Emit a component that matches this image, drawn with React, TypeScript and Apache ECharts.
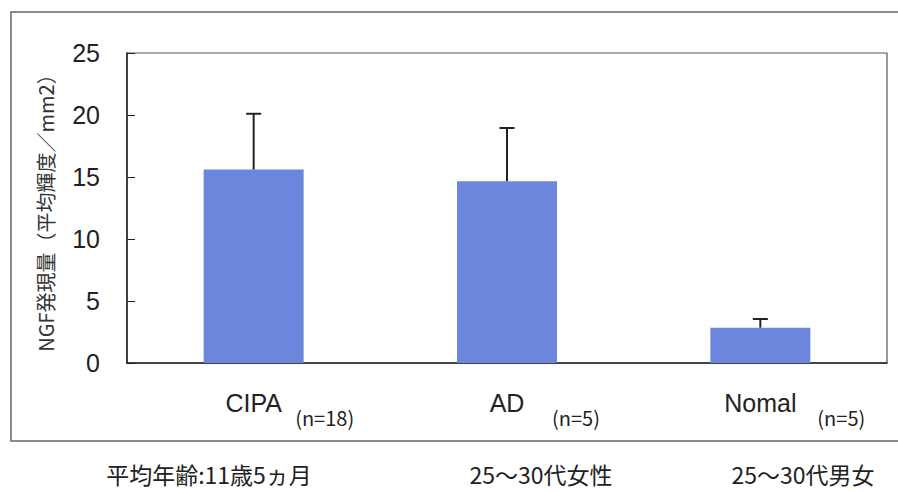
import React, { useEffect, useRef } from "react";
import * as echarts from "echarts";

const categories = ["CIPA", "AD", "Nomal"];
const sampleLabels = ["(n=18)", "(n=5)", "(n=5)"];
const means = [15.6, 14.65, 2.85];
const errorTops = [20.1, 18.95, 3.55];
const yTicks = { min: 0, max: 25, interval: 5 };
const yName = "NGF発現量（平均輝度／mm2）";
const footnotes = ["平均年齢:11歳5ヵ月", "25～30代女性", "25～30代男女"];

const FONT = "'Liberation Sans', Arial, 'Noto Sans CJK JP', sans-serif";
const CJK = "'Noto Sans CJK JP', 'Liberation Sans', sans-serif";

export default function App() {
  const ref = useRef<HTMLDivElement>(null);
  useEffect(() => {
    document.body.style.margin = "0";
    const chart = echarts.init(ref.current!, null, { renderer: "svg" });
    const nPads = [142, 138, 162];
    const footX = [209, 541, 803];
    chart.setOption({
      animation: false,
      backgroundColor: "#ffffff",
      grid: { left: 127, top: 53, right: 11, bottom: 129, show: true, borderColor: "#555", borderWidth: 1.2 },
      xAxis: [
        {
          type: "category",
          data: categories,
          axisLine: { lineStyle: { color: "#222", width: 1.5 } },
          axisTick: { show: false },
          axisLabel: { margin: 27, fontSize: 25, color: "#222", fontFamily: FONT },
        },
        {
          type: "category",
          data: sampleLabels,
          position: "bottom",
          axisLine: { show: false },
          axisTick: { show: false },
          axisLabel: {
            margin: 44,
            formatter: (v: string, i: number) => `{p${i}|${v}}`,
            rich: {
              p0: { padding: [0, 0, 0, nPads[0]], fontSize: 20, color: "#222", fontFamily: CJK },
              p1: { padding: [0, 0, 0, nPads[1]], fontSize: 20, color: "#222", fontFamily: CJK },
              p2: { padding: [0, 0, 0, nPads[2]], fontSize: 20, color: "#222", fontFamily: CJK },
            },
          },
        },
      ],
      yAxis: {
        type: "value",
        min: yTicks.min,
        max: yTicks.max,
        interval: yTicks.interval,
        name: yName,
        nameLocation: "middle",
        nameGap: 72,
        nameTextStyle: { fontSize: 20, color: "#333", fontFamily: CJK },
        axisLine: { show: true, lineStyle: { color: "#222", width: 1.5 } },
        axisTick: { show: true, inside: true, length: 8, lineStyle: { color: "#222" } },
        axisLabel: { margin: 27, fontSize: 25, color: "#222", fontFamily: FONT },
        splitLine: { show: false },
      },
      series: [
        {
          type: "bar",
          data: means,
          barWidth: 100,
          itemStyle: { color: "#6c86de" },
        },
        {
          type: "custom",
          data: categories.map((_, i) => [i, means[i], errorTops[i]]),
          renderItem: (params: any, api: any) => {
            const i = api.value(0);
            const low = api.coord([i, api.value(1)]);
            const high = api.coord([i, api.value(2)]);
            const style = { stroke: "#222", lineWidth: 2 };
            return {
              type: "group",
              children: [
                { type: "line", shape: { x1: low[0], y1: low[1], x2: high[0], y2: high[1] }, style },
                { type: "line", shape: { x1: high[0] - 7.5, y1: high[1], x2: high[0] + 7.5, y2: high[1] }, style },
              ],
            };
          },
          z: 3,
        },
      ],
      graphic: [
        {
          type: "rect",
          shape: { x: 11, y: 12, width: 900, height: 429 },
          style: { fill: "none", stroke: "#666", lineWidth: 1.5 },
          silent: true,
        },
        ...footnotes.map((t, i) => ({
          type: "text",
          x: footX[i],
          y: 462,
          style: {
            text: t,
            fontSize: 23,
            fill: "#222",
            fontFamily: CJK,
            textAlign: "center",
            textVerticalAlign: "top",
          },
        })),
      ],
    });
    return () => chart.dispose();
  }, []);
  return <div ref={ref} style={{ width: 898, height: 492 }} />;
}
